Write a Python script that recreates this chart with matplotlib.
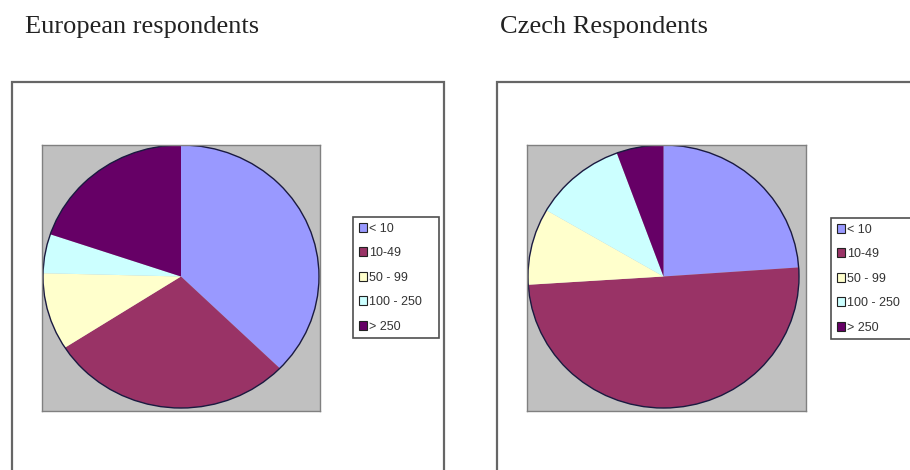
import matplotlib
matplotlib.use("Agg")
import matplotlib.pyplot as plt
from matplotlib.patches import Rectangle, Circle, Patch

categories = ["< 10", "10-49", "50 - 99", "100 - 250", "> 250"]
categories_cz = ["< 10", "10-49", "50 - 99", "100 - 250", "> 250"]
european = [37.3, 28.6, 9.5, 4.8, 19.8]
czech = [23.9, 50.1, 9.4, 11.0, 5.6]
titles = ["European respondents", "Czech Respondents"]
colors = ["#9999FF", "#993366", "#FFFFCC", "#CCFFFF", "#660066"]

W, H = 910, 470
fig = plt.figure(figsize=(W / 100, H / 100), dpi=100)
fig.patch.set_facecolor("white")


def fx(x):
    return x / W


def fy(y):
    return 1 - y / H


def add_px_axes(x0, y0, x1, y1):
    return fig.add_axes([fx(x0), fy(y1), (x1 - x0) / W, (y1 - y0) / H])


panels = [
    dict(title=titles[0], tx=25, frame=(12, 82, 444, 480), gray=(42, 145, 320, 411),
         center=(181, 276.5), rx=138, ry=131.5, legend=(353, 217, 439),
         vals=european, labels=categories),
    dict(title=titles[1], tx=500, frame=(497, 82, 920, 480), gray=(527, 145, 806, 411),
         center=(663.5, 276.5), rx=135.5, ry=131.5, legend=(831, 218, 917),
         vals=czech, labels=categories_cz),
]

for p in panels:
    fig.text(fx(p["tx"]), fy(33), p["title"], family="Liberation Serif", fontsize=19,
             color="#222222", va="baseline", ha="left")
    x0, y0, x1, y1 = p["frame"]
    fig.patches.append(Rectangle((fx(x0), fy(y1)), (x1 - x0) / W, (y1 - y0) / H,
                                 transform=fig.transFigure, facecolor="none",
                                 edgecolor="#666666", lw=1.6, zorder=-1))
    gx0, gy0, gx1, gy1 = p["gray"]
    ax = add_px_axes(gx0, gy0, gx1, gy1)
    w, h = gx1 - gx0, gy1 - gy0
    s = p["rx"] / p["ry"]
    cx, cy = p["center"][0] - gx0, (gy1 - p["center"][1]) * s
    wedges, _ = ax.pie(p["vals"], colors=colors, startangle=90, counterclock=False,
                       radius=p["rx"], center=(cx, cy), frame=True,
                       wedgeprops=dict(linewidth=0))
    ax.add_patch(Circle((cx, cy), p["rx"], facecolor="none", edgecolor="#1a1a40", lw=1.0))
    ax.set_aspect("auto")
    ax.set_xlim(0, w)
    ax.set_ylim(0, h * s)
    ax.set_facecolor("#C0C0C0")
    ax.set_xticks([])
    ax.set_yticks([])
    for sp in ax.spines.values():
        sp.set_color("#808080")
        sp.set_linewidth(1.0)

    lx0, ly0, lx1 = p["legend"]
    handles = [Patch(facecolor=c, edgecolor="#222222", lw=0.8) for c in colors]
    leg = fig.legend(handles, p["labels"], loc="upper left",
                     bbox_to_anchor=(fx(lx0), fy(ly0), (lx1 - lx0) / W, 0.0001),
                     bbox_transform=fig.transFigure, mode="expand",
                     prop=dict(family="Liberation Sans", size=9),
                     frameon=True, fancybox=False, edgecolor="#222222",
                     handlelength=0.7, handleheight=0.7, handletextpad=0.15,
                     labelspacing=1.0, borderpad=0.45, borderaxespad=0)
    leg.get_frame().set_linewidth(1.2)
    for t in leg.get_texts():
        t.set_color("#333333")

fig.savefig("out.png", dpi=100, facecolor="white")
